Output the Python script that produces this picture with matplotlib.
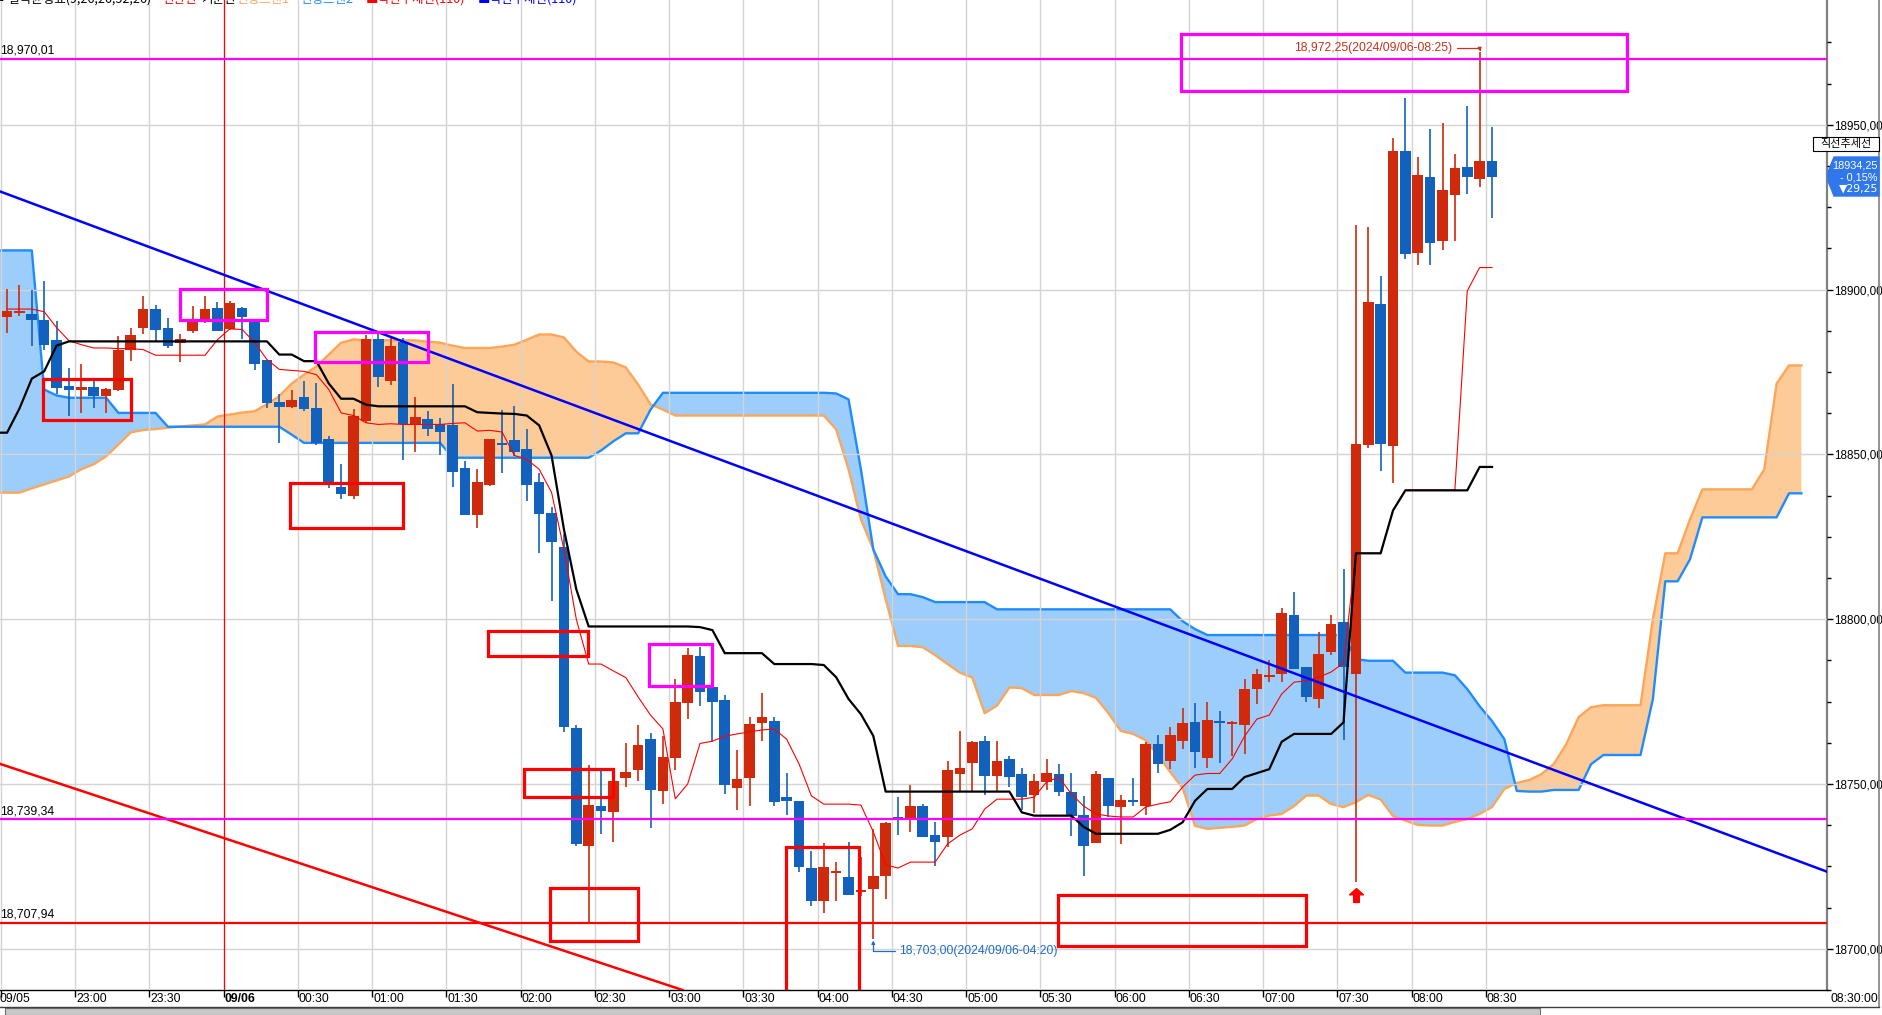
import numpy as np
import matplotlib
matplotlib.use('Agg')
import matplotlib.pyplot as plt
from matplotlib.patches import Rectangle, Polygon
from matplotlib.path import Path
from matplotlib.lines import Line2D

plt.rcParams['font.family'] = ['Liberation Sans', 'DejaVu Sans']
KR = ['Noto Sans CJK KR', 'DejaVu Sans']

# ---------------- data (5-minute bars, 22:30 -> 08:30) ----------------
OPEN = [18891.7, 18893.0, 18892.7, 18890.9, 18884.6, 18870.9, 18869.5, 18870.5, 18867.7, 18869.5,
        18881.6, 18888.4, 18894.0, 18888.4, 18883.9, 18887.4, 18890.2, 18894.5, 18888.2, 18894.3,
        18890.7, 18878.5, 18866.0, 18864.5, 18867.4, 18864.0, 18854.6, 18840.1, 18837.4, 18860.1,
        18885.1, 18872.2, 18884.0, 18859.1, 18860.8, 18859.1, 18858.8, 18846.0, 18831.6, 18840.7,
        18853.5, 18854.3, 18851.5, 18841.7, 18832.1, 18822.0, 18766.9, 18731.3, 18743.3, 18741.6,
        18751.8, 18754.3, 18763.6, 18748.0, 18757.9, 18774.5, 18788.9, 18779.3, 18775.5, 18748.8,
        18751.8, 18768.4, 18769.2, 18746.0, 18744.8, 18724.5, 18714.6, 18723.2, 18721.7, 18717.2,
        18718.0, 18722.2, 18740.0, 18739.2, 18743.3, 18734.5, 18733.8, 18753.0, 18756.3, 18763.1,
        18752.5, 18757.6, 18753.0, 18746.7, 18750.5, 18753.0, 18747.5, 18740.6, 18732.1, 18751.7,
        18743.0, 18745.0, 18743.3, 18762.1, 18757.1, 18763.1, 18768.7, 18757.9, 18769.2, 18768.4,
        18767.9, 18778.8, 18782.6, 18783.5, 18801.4, 18785.5, 18775.8, 18790.1, 18799.2, 18783.3,
        18853.0, 18895.5, 18852.5, 18942.2, 18911.1, 18934.2, 18914.9, 18928.6, 18937.2, 18933.7,
        18938.9]
HIGH = [18900.2, 18901.5, 18900.0, 18902.5, 18890.4, 18876.3, 18877.3, 18872.7, 18870.3, 18885.9,
        18888.4, 18898.2, 18895.2, 18891.4, 18886.4, 18895.0, 18898.0, 18896.2, 18896.5, 18894.8,
        18890.7, 18878.5, 18868.4, 18869.7, 18872.2, 18871.7, 18855.6, 18847.0, 18863.7, 18886.1,
        18887.0, 18885.4, 18885.4, 18867.5, 18863.1, 18861.1, 18871.4, 18848.0, 18845.5, 18854.6,
        18863.6, 18864.7, 18857.6, 18844.5, 18834.2, 18825.8, 18767.9, 18755.8, 18754.0, 18753.3,
        18762.4, 18767.9, 18765.5, 18764.6, 18781.8, 18791.4, 18791.7, 18779.3, 18777.0, 18760.3,
        18770.2, 18777.6, 18770.2, 18753.3, 18744.8, 18729.8, 18732.1, 18726.3, 18732.3, 18728.0,
        18736.4, 18738.5, 18746.0, 18749.7, 18744.0, 18738.4, 18757.1, 18766.1, 18762.9, 18764.5,
        18763.1, 18758.6, 18755.0, 18753.0, 18757.6, 18756.0, 18753.3, 18746.5, 18753.8, 18751.7,
        18746.7, 18751.8, 18762.8, 18764.8, 18767.2, 18773.2, 18774.5, 18774.8, 18772.2, 18769.0,
        18781.8, 18784.8, 18787.6, 18803.5, 18808.2, 18785.5, 18796.0, 18801.2, 18815.2, 18919.7,
        18918.9, 18904.0, 18946.0, 18958.1, 18940.2, 18948.7, 18950.7, 18941.2, 18955.8, 18972.25,
        18949.3]
LOW = [18886.9, 18892.1, 18882.8, 18881.8, 18868.2, 18861.8, 18862.6, 18864.2, 18862.7, 18869.2,
       18878.3, 18886.6, 18884.4, 18882.3, 18878.0, 18886.9, 18890.0, 18887.3, 18887.9, 18884.9,
       18875.6, 18864.2, 18853.6, 18864.2, 18863.1, 18853.0, 18839.9, 18836.4, 18836.4, 18859.4,
       18870.5, 18871.2, 18848.3, 18850.7, 18855.5, 18849.8, 18840.1, 18831.6, 18827.6, 18840.4,
       18844.4, 18849.5, 18835.9, 18820.2, 18805.5, 18765.7, 18731.1, 18708.0, 18734.8, 18732.5,
       18749.2, 18751.0, 18736.6, 18743.9, 18754.3, 18769.7, 18773.7, 18762.6, 18747.0, 18742.2,
       18743.4, 18763.1, 18743.4, 18740.7, 18723.4, 18713.0, 18710.9, 18714.6, 18716.2, 18716.0,
       18703.0, 18715.2, 18734.4, 18735.4, 18733.8, 18725.0, 18730.8, 18747.7, 18747.7, 18746.7,
       18747.7, 18749.0, 18742.2, 18741.2, 18748.3, 18746.3, 18734.3, 18722.2, 18732.0, 18739.9,
       18731.8, 18743.4, 18740.6, 18753.3, 18754.6, 18760.6, 18754.8, 18754.8, 18756.4, 18758.4,
       18759.0, 18774.3, 18781.0, 18780.8, 18785.0, 18774.9, 18773.0, 18789.0, 18763.3, 18720.2,
       18852.0, 18844.9, 18841.2, 18909.4, 18907.6, 18907.6, 18911.9, 18914.9, 18929.1, 18931.0,
       18921.8]
CLOSE = [18893.4, 18893.5, 18890.7, 18883.1, 18870.2, 18869.5, 18870.4, 18867.7, 18870.0, 18881.8,
         18886.1, 18894.0, 18887.7, 18882.8, 18884.9, 18890.4, 18894.0, 18887.4, 18895.8, 18891.7,
         18877.5, 18865.7, 18864.5, 18866.4, 18863.7, 18853.6, 18841.4, 18837.9, 18861.8, 18885.1,
         18873.5, 18882.8, 18859.1, 18861.3, 18857.8, 18856.8, 18844.6, 18831.6, 18841.7, 18854.6,
         18853.0, 18850.7, 18840.7, 18832.0, 18823.5, 18767.2, 18731.8, 18743.6, 18741.9, 18750.8,
         18753.7, 18761.8, 18748.3, 18758.2, 18774.8, 18789.1, 18778.0, 18775.0, 18749.8, 18751.5,
         18768.2, 18770.4, 18744.6, 18744.8, 18724.8, 18714.6, 18724.8, 18723.5, 18716.2, 18717.6,
         18722.2, 18738.2, 18739.2, 18743.3, 18733.8, 18732.5, 18754.2, 18754.8, 18762.8, 18752.5,
         18757.1, 18752.2, 18746.2, 18750.8, 18753.3, 18747.7, 18740.4, 18731.3, 18753.0, 18743.3,
         18745.2, 18744.8, 18762.1, 18756.0, 18764.8, 18768.5, 18759.6, 18769.4, 18768.7, 18768.7,
         18778.8, 18783.3, 18782.8, 18801.8, 18785.0, 18776.5, 18789.4, 18798.5, 18785.5, 18853.3,
         18896.2, 18853.3, 18942.2, 18910.8, 18934.9, 18914.3, 18930.3, 18936.9, 18934.1, 18938.9,
         18934.25]

# Ichimoku: conversion line (bars 0..120)
TENKAN = [18894.1, 18894.1, 18894.1, 18893.3, 18888.5, 18884.5, 18883.3, 18882.3, 18882.3, 18882.1,
          18882.1, 18881.8, 18880.1, 18880.1, 18880.1, 18880.1, 18880.1, 18884.8, 18888.1, 18887.9,
          18884.0, 18878.8, 18875.8, 18875.5, 18875.2, 18874.2, 18869.7, 18862.6, 18861.8, 18859.6,
          18859.1, 18859.3, 18859.1, 18859.1, 18859.1, 18859.1, 18859.4, 18859.6, 18857.1, 18857.3,
          18856.8, 18849.7, 18848.5, 18845.5, 18838.5, 18821.2, 18800.0, 18786.4, 18786.4, 18784.3,
          18782.3, 18776.4, 18770.9, 18766.7, 18745.5, 18750.0, 18762.3, 18763.0, 18764.5, 18765.2,
          18765.8, 18766.4, 18766.7, 18763.6, 18756.1, 18746.4, 18743.9, 18743.9, 18743.9, 18743.6,
          18735.5, 18725.5, 18724.5, 18726.3, 18726.3, 18726.3, 18731.8, 18734.5, 18736.4, 18742.4,
          18745.4, 18745.4, 18745.4, 18746.0, 18750.6, 18752.1, 18747.0, 18743.3, 18740.9, 18740.3,
          18740.0, 18740.0, 18743.0, 18743.9, 18744.6, 18749.1, 18752.7, 18753.2, 18753.2, 18757.6,
          18764.5, 18769.7, 18770.9, 18777.3, 18780.9, 18781.3, 18782.4, 18784.0, 18786.7, 18820.0,
          18820.0, 18820.0, 18833.0, 18839.2, 18839.2, 18839.2, 18839.2, 18839.2, 18899.6, 18906.7,
          18906.7]
# base line (bars -1..120)
KIJUN = [18856.6, 18856.6, 18863.9, 18873.0, 18875.2, 18883.0, 18884.3, 18884.3, 18884.3, 18884.3,
         18884.3, 18884.3, 18884.3, 18884.3, 18884.3, 18884.3, 18884.3, 18884.3, 18884.3, 18884.3,
         18884.3, 18884.3, 18884.3, 18880.3, 18880.3, 18878.3, 18878.3, 18871.5, 18866.9, 18866.9,
         18865.1, 18864.6, 18864.6, 18864.6, 18864.6, 18864.6, 18864.6, 18864.6, 18864.6, 18862.8,
         18862.6, 18862.4, 18862.3, 18861.8, 18858.8, 18849.7, 18827.3, 18809.1, 18797.8, 18797.8,
         18797.8, 18797.8, 18797.8, 18797.8, 18797.8, 18797.8, 18797.8, 18797.6, 18796.7, 18789.7,
         18789.7, 18789.7, 18789.7, 18786.4, 18786.4, 18786.4, 18786.4, 18786.1, 18782.4, 18775.8,
         18771.2, 18764.6, 18747.7, 18747.7, 18747.7, 18747.7, 18747.7, 18747.7, 18747.7, 18747.7,
         18747.7, 18747.7, 18747.7, 18741.4, 18740.4, 18740.4, 18740.4, 18740.4, 18737.0, 18734.9,
         18734.9, 18734.9, 18734.9, 18734.9, 18734.9, 18736.1, 18738.4, 18744.9, 18748.5, 18748.5,
         18748.5, 18752.1, 18753.3, 18754.5, 18762.8, 18765.2, 18765.2, 18765.2, 18765.2, 18768.7,
         18820.0, 18820.0, 18820.0, 18833.0, 18839.1, 18839.1, 18839.1, 18839.1, 18839.1, 18839.1,
         18846.2, 18846.2]
# leading spans, displayed positions -1..145
SPAN1 = [18838.4, 18838.4, 18838.4, 18839.7, 18840.9, 18842.1, 18843.3, 18845.5, 18847.0, 18849.4,
         18853.0, 18856.7, 18857.4, 18857.7, 18858.1, 18858.5, 18858.8, 18859.1, 18861.5, 18862.1,
         18862.7, 18863.1, 18865.2, 18867.7, 18871.5, 18874.2, 18876.7, 18880.3, 18883.9, 18884.9,
         18884.6, 18884.6, 18884.6, 18884.6, 18884.6, 18884.2, 18883.9, 18883.0, 18882.3, 18882.3,
         18882.3, 18882.7, 18883.3, 18884.8, 18886.4, 18886.4, 18885.5, 18881.2, 18878.2, 18878.2,
         18877.9, 18876.4, 18871.2, 18865.2, 18863.6, 18861.8, 18861.8, 18861.8, 18861.8, 18861.8,
         18861.8, 18861.8, 18861.8, 18861.8, 18861.8, 18861.8, 18861.8, 18861.8, 18857.6, 18845.5,
         18830.3, 18821.2, 18806.1, 18791.9, 18791.9, 18791.5, 18789.1, 18786.4, 18783.8, 18782.3,
         18771.5, 18773.8, 18779.3, 18779.1, 18777.0, 18777.0, 18777.0, 18778.2, 18777.6, 18776.1,
         18771.5, 18766.1, 18765.2, 18763.3, 18758.8, 18753.6, 18748.8, 18737.3, 18736.4, 18736.7,
         18737.0, 18737.4, 18739.4, 18740.4, 18740.9, 18743.3, 18746.5, 18746.5, 18743.9, 18743.0,
         18744.5, 18746.7, 18745.3, 18740.3, 18738.9, 18737.6, 18737.4, 18737.4, 18738.5, 18739.4,
         18740.9, 18743.0, 18748.5, 18750.3, 18751.2, 18753.0, 18756.1, 18762.1, 18770.3, 18773.3,
         18773.9, 18773.9, 18773.9, 18773.9, 18800.0, 18820.0, 18820.0, 18830.3, 18839.4, 18839.4,
         18839.4, 18839.4, 18839.4, 18845.5, 18871.5, 18877.0, 18877.0]
SPAN2 = [18911.9, 18911.9, 18911.9, 18911.9, 18869.7, 18867.9, 18867.2, 18867.2, 18867.2, 18867.2,
         18862.6, 18862.6, 18862.6, 18862.6, 18858.4, 18858.4, 18858.4, 18858.4, 18858.4, 18858.4,
         18858.4, 18858.4, 18858.4, 18858.4, 18856.0, 18853.5, 18853.5, 18853.5, 18853.5, 18853.5,
         18853.5, 18853.5, 18853.5, 18853.5, 18853.5, 18853.5, 18853.5, 18849.0, 18849.0, 18849.0,
         18849.0, 18849.0, 18849.0, 18849.0, 18849.0, 18849.0, 18849.0, 18849.0, 18849.0, 18851.2,
         18854.0, 18856.4, 18856.4, 18863.6, 18868.7, 18868.7, 18868.7, 18868.7, 18868.7, 18868.7,
         18868.7, 18868.7, 18868.7, 18868.7, 18868.7, 18868.7, 18868.7, 18868.7, 18868.5, 18866.7,
         18845.5, 18821.2, 18813.0, 18807.6, 18807.6, 18806.7, 18805.2, 18805.2, 18805.2, 18805.2,
         18805.2, 18803.0, 18803.0, 18803.0, 18803.0, 18803.0, 18803.0, 18803.0, 18803.0, 18803.0,
         18803.0, 18803.0, 18803.0, 18803.0, 18803.0, 18803.0, 18799.4, 18797.0, 18795.2, 18795.2,
         18795.2, 18795.2, 18795.2, 18795.2, 18795.2, 18795.2, 18795.2, 18795.2, 18795.2, 18795.2,
         18787.9, 18787.4, 18787.4, 18787.4, 18783.8, 18783.8, 18783.8, 18783.8, 18783.0, 18778.8,
         18773.6, 18769.1, 18763.6, 18747.9, 18747.7, 18747.7, 18748.2, 18748.2, 18748.2, 18756.0,
         18758.8, 18758.8, 18758.8, 18758.8, 18775.8, 18811.5, 18811.5, 18818.2, 18830.9, 18830.9,
         18830.9, 18830.9, 18830.9, 18830.9, 18830.9, 18838.2, 18838.2]

TIME_LABELS = ['09/05', '23:00', '23:30', '09/06', '00:30', '01:00', '01:30', '02:00', '02:30',
               '03:00', '03:30', '04:00', '04:30', '05:00', '05:30', '06:00', '06:30', '07:00',
               '07:30', '08:00', '08:30']
Y_TICKS = [18700, 18750, 18800, 18850, 18900, 18950]

# user drawings (bar index, price)
BLUE_TREND = [(0, 18929.0), (147, 18723.5)]
RED_TREND = [(0, 18755.4), (50, 18693.2)]
H_MAGENTA = [18970.01, 18739.34]
H_RED = [18707.94]
LEVEL_LABELS = ['18,970,01', '18,739,34', '18,707,94']
MAGENTA_BOXES = [(13.98, 20.97, 18890.8, 18900.3), (24.89, 34.02, 18877.9, 18887.0),
                 (51.88, 56.97, 18779.7, 18792.4), (94.88, 130.9, 18960.3, 18977.6)]
RED_BOXES = [(2.93, 10.02, 18860.4, 18873.0), (22.87, 31.96, 18827.6, 18841.2),
             (38.87, 46.95, 18788.8, 18796.4), (41.78, 48.93, 18746.1, 18754.5),
             (43.88, 50.99, 18702.4, 18718.5), (62.96, 68.86, 18670.0, 18730.9),
             (84.94, 104.94, 18700.9, 18716.4)]
SIGNAL_BAR, SIGNAL_PRICE = 109, 18716.2
LOW_BAR, HIGH_BAR = 70, 119
LAST_PRICE, CHG, CHG_PCT = 18934.25, -29.25, -0.15

# ---------------- styling ----------------
RED_C = '#D02A0C'
BLUE_C = '#1262BD'
W, H = 1883, 1015
fig = plt.figure(figsize=(W / 100, H / 100), dpi=100)
fig.patch.set_facecolor('white')
ax = fig.add_axes([0, 25 / H, 1827 / W, 990 / H])
ax.set_xlim(-0.57, 147.07)
ax.set_ylim(18687.88, 18987.88)

def F(x, y):
    return x / W, 1 - y / H

# cloud
xs = np.arange(-1, -1 + len(SPAN1))
s1 = np.array(SPAN1)
s2 = np.array(SPAN2)
ax.fill_between(xs, s1, s2, where=s1 >= s2, interpolate=True, color='#FDCB98', lw=0, zorder=1)
ax.fill_between(xs, s1, s2, where=s2 > s1, interpolate=True, color='#9DCDFA', lw=0, zorder=1)
ax.plot(xs, s1, color='#FCA65A', lw=1.7, zorder=2)
ax.plot(xs, s2, color='#1E8CFF', lw=1.7, zorder=2)

# grid / ticks
xt = [6 * k - 0.5 for k in range(len(TIME_LABELS))]
ax.set_xticks(xt)
ax.set_xticklabels([])
ax.set_yticks(Y_TICKS)
ax.set_yticks(np.arange(18687.5, 18987.5, 12.5), minor=True)
ax.set_yticklabels([f'{v:.2f}'.replace('.', ',') for v in Y_TICKS])
ax.yaxis.tick_right()
ax.tick_params(axis='y', which='major', length=4, width=1, pad=1.5, labelsize=8.4, colors='black')
ax.tick_params(axis='y', which='minor', length=3, width=1, colors='black')
ax.tick_params(axis='x', which='major', length=5, width=1, colors='black')
ax.grid(True, which='major', color='#D4D4D4', lw=1)
ax.set_axisbelow(False)
for s in ['top', 'left']:
    ax.spines[s].set_visible(False)
ax.spines['right'].set_color('#808080')
ax.spines['right'].set_linewidth(1.6)
ax.spines['bottom'].set_color('black')
ax.spines['bottom'].set_linewidth(1.0)

for k, (pos, lab) in enumerate(zip(xt, TIME_LABELS)):
    off = -1 if k == 0 else 1
    ax.annotate(lab, xy=(pos, 0), xycoords=('data', 'axes fraction'), xytext=(off, -3),
                textcoords='offset pixels', ha='left', va='top', fontsize=8.8,
                fontweight='bold' if lab == '09/06' else 'normal', annotation_clip=False)

# 09/06 session line
ax.axvline(17.5, color='#FF0000', lw=0.9, zorder=2.6)

# candles
o = np.array(OPEN); h = np.array(HIGH); l = np.array(LOW); c = np.array(CLOSE)
idx = np.arange(len(o))
cols = np.where(c >= o, RED_C, BLUE_C)
ax.vlines(idx, l, h, colors=cols, lw=1.2, zorder=3)
bh = np.abs(c - o)
bhh = np.maximum(bh, 0.6)
bb = np.minimum(o, c) - (bhh - bh) / 2
ax.bar(idx, bhh, bottom=bb, width=0.86, color=cols, lw=0, zorder=3.1)

# conversion / base lines
ax.plot(np.arange(len(TENKAN)), TENKAN, color='#FF0000', lw=0.8, zorder=4)
ax.plot(np.arange(-1, -1 + len(KIJUN)), KIJUN, color='black', lw=1.6, zorder=4)

# trend lines and horizontal levels
ax.axline(BLUE_TREND[0], BLUE_TREND[1], color='#0000FF', lw=1.8, zorder=5)
ax.axline(RED_TREND[0], RED_TREND[1], color='#FF0000', lw=1.8, zorder=5)
for v in H_MAGENTA:
    ax.axhline(v, color='#FF00FF', lw=1.6, zorder=5)
for v in H_RED:
    ax.axhline(v, color='#FF0000', lw=1.6, zorder=5)
for v, lab in zip(H_MAGENTA + H_RED, LEVEL_LABELS):
    ax.annotate(lab, xy=(0, v), xycoords=('axes fraction', 'data'), xytext=(0, 2),
                textcoords='offset pixels', ha='left', va='bottom', fontsize=8.8, color='black')

for (x0, x1, p0, p1) in MAGENTA_BOXES:
    ax.add_patch(Rectangle((x0, p0), x1 - x0, p1 - p0, fill=False, ec='#FF00FF', lw=2.3, zorder=6))
for (x0, x1, p0, p1) in RED_BOXES:
    ax.add_patch(Rectangle((x0, p0), x1 - x0, p1 - p0, fill=False, ec='#FF0000', lw=2.3, zorder=6))

# signal arrow
arrow = Path([(0, 1), (1, 0.1), (0.4, 0.1), (0.4, -1), (-0.4, -1), (-0.4, 0.1), (-1, 0.1), (0, 1)])
ax.plot([SIGNAL_BAR], [SIGNAL_PRICE], marker=arrow, ms=10, color='#FF0000', mec='#FF0000', zorder=6, ls='none')

# high / low annotations
lowv = LOW[LOW_BAR]
highv = HIGH[HIGH_BAR]
ax.annotate(f'{lowv:,.2f}'.replace('.', ',') + '(2024/09/06-04:20)', xy=(LOW_BAR, lowv),
            xytext=(26, -12), textcoords='offset pixels', ha='left', va='center', fontsize=8.8,
            color='#1E6EC8', zorder=7,
            arrowprops=dict(arrowstyle='-|>', color='#1E6EC8', lw=0.9, mutation_scale=5,
                            shrinkA=1, shrinkB=1, connectionstyle='angle,angleA=0,angleB=90,rad=0'))
ax.annotate(f'{highv:,.2f}'.replace('.', ',') + '(2024/09/06-08:25)', xy=(HIGH_BAR, highv),
            xytext=(-27, 4), textcoords='offset pixels', ha='right', va='center', fontsize=8.8,
            color='#C8321E', zorder=7,
            arrowprops=dict(arrowstyle='-|>', color='#C8321E', lw=0.9, mutation_scale=5,
                            shrinkA=1, shrinkB=0, connectionstyle='angle,angleA=0,angleB=90,rad=0'))

# ---------------- figure decorations ----------------
# top legend (cut off by the frame, as in the source screen)
legend_items = [('ㅁ 일목균형표(9,26,26,52,26)', 'black', -6), ('전환선', '#FF0000', 162),
                ('기준선', 'black', 201), ('선행스팬1', '#FCA65A', 236), ('선행스팬2', '#1E8CFF', 300),
                ('■직선추세선(110)', '#FF0000', 366), ('■직선추세선(110)', '#0000FF', 478)]
for txt, col, x in legend_items:
    fig.text(*F(x, 2.5), txt, color=col, fontsize=9, family=KR, ha='left', va='baseline')

# frame lines and scroll bar
fig.add_artist(Line2D([1879 / W, 1879 / W], [1 - 1007 / H, 1], color='#808080', lw=1.2))
fig.add_artist(Line2D([0, 1879 / W], [1 - 1007 / H, 1 - 1007 / H], color='#404040', lw=1.0))
fig.add_artist(Rectangle(F(5, 1015), 1535 / W, 7 / H, transform=fig.transFigure,
                         fc='#C8C8C8', ec='#707070', lw=0.8))

# trendline label box
fig.add_artist(Rectangle(F(1813, 151), 66 / W, 14 / H, transform=fig.transFigure,
                         fc='white', ec='black', lw=0.8, zorder=8))
fig.text(*F(1846, 144), '직선추세선', family=KR, fontsize=8, ha='center', va='center', zorder=9)

# last price box
pts = [F(1834, 157), F(1879, 157), F(1879, 196), F(1834, 196), F(1828, 181), F(1828, 172)]
fig.add_artist(Polygon(pts, closed=True, transform=fig.transFigure, fc='#2F77EA', ec='#2F77EA', zorder=8))
fig.text(*F(1878, 165), f'{LAST_PRICE:.2f}'.replace('.', ','), color='white', fontsize=7.8,
         ha='right', va='center', zorder=9)
fig.text(*F(1878, 177), f'- {abs(CHG_PCT):.2f}%'.replace('.', ','), color='white', fontsize=7.8,
         ha='right', va='center', zorder=9)
fig.text(*F(1878, 189), '▼' + f'{abs(CHG):.2f}'.replace('.', ','), color='white', fontsize=7.8,
         ha='right', va='center', zorder=9, family=['DejaVu Sans'])

fig.text(*F(1878, 999), '08:30:00', fontsize=8.8, ha='right', va='center')

fig.savefig('out.png', dpi=100)
